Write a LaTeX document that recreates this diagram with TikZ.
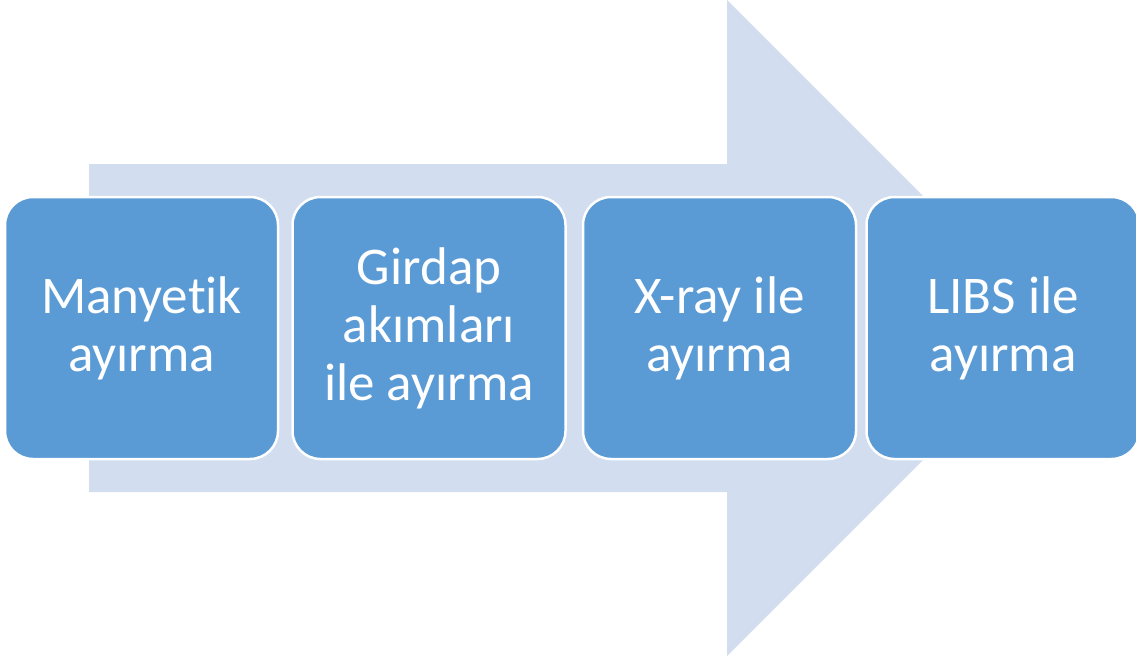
\documentclass[tikz,border=0pt]{standalone}
\usepackage{fontspec}
\setmainfont[Ligatures={NoCommon}]{Carlito}
\definecolor{arrowfill}{HTML}{D2DEEF}
\definecolor{boxfill}{HTML}{5B9BD5}
\tikzset{
  stepbox/.style={draw=white, line width=2.5pt, fill=boxfill, rounded corners=28pt,
    minimum width=273pt, minimum height=262pt, inner sep=0pt, align=center,
    text=white, font=\fontsize{53}{58}\selectfont},
}
\begin{document}
\begin{tikzpicture}[x=1pt,y=-1pt]
\useasboundingbox (0,0) rectangle (1136,659);
\fill[arrowfill] (89,164) -- (727,164) -- (727,0) -- (1055,328) -- (727,656) -- (727,492) -- (89,492) -- cycle;
\node[stepbox] (b1) at (141.5,328) {Manyetik\\ayırma};
\node[stepbox] (b2) at (429,328) {Girdap\\akımları\\ile ayırma};
\node[stepbox] (b3) at (719.5,328) {X-ray ile\\ayırma};
\node[stepbox] (b4) at (1003,328) {LIBS ile\\ayırma};
\end{tikzpicture}
\end{document}
